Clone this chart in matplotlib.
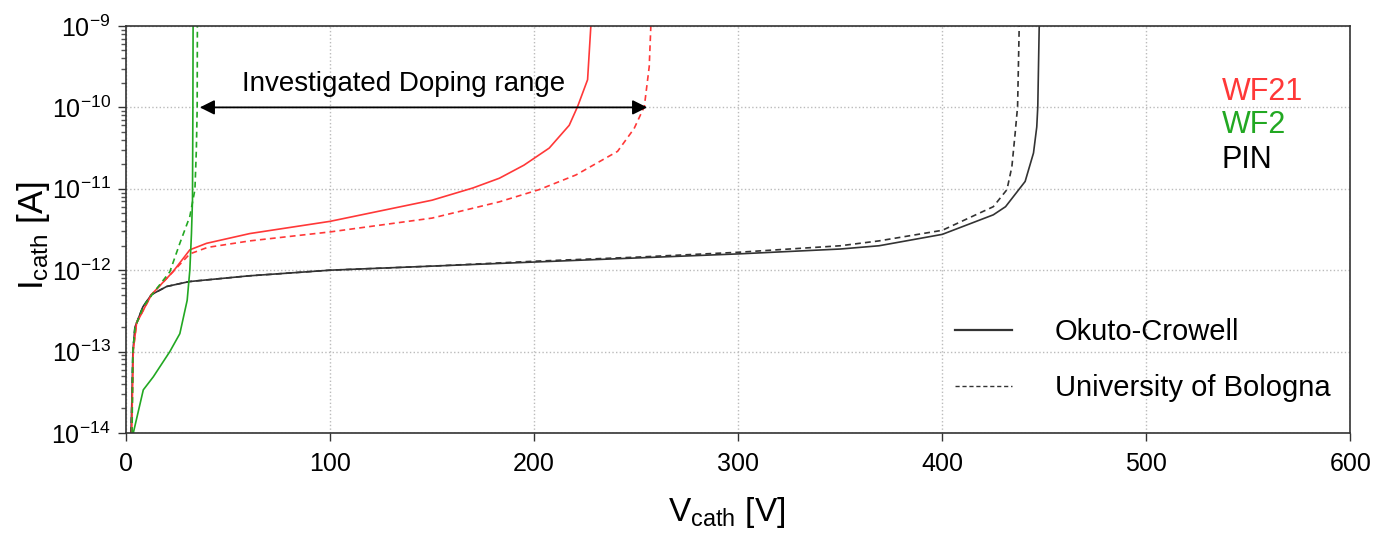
import numpy as np
import matplotlib
matplotlib.use("Agg")
import matplotlib.pyplot as plt
from matplotlib.lines import Line2D
from matplotlib.ticker import LogLocator, FuncFormatter, MultipleLocator

plt.rcParams['font.family'] = ['Liberation Sans', 'DejaVu Sans']
plt.rcParams['mathtext.fontset'] = 'custom'
plt.rcParams['mathtext.rm'] = 'Liberation Sans'
plt.rcParams['mathtext.it'] = 'Liberation Sans:italic'
plt.rcParams['mathtext.default'] = 'regular'

# PIN, Okuto-Crowell (solid)
pin_oc_v = [2.5, 3.0, 3.4, 4.4, 8.3, 12.5, 20, 31, 60, 100, 150, 200, 250, 300, 350,
            369, 400, 425, 431, 440.6, 444.7, 446.3, 446.8, 447.5]
pin_oc_logi = [-14.0, -13.5, -13.0, -12.70, -12.45, -12.30, -12.20, -12.14, -12.07, -12.0,
               -11.95, -11.90, -11.85, -11.80, -11.74, -11.70, -11.56, -11.32, -11.22,
               -10.91, -10.56, -10.24, -9.99, -9.0]
# PIN, University of Bologna (dashed)
pin_ub_v = [2.5, 3.0, 3.4, 4.4, 8.3, 12.5, 20, 31, 60, 100, 150, 200, 250, 300, 350,
            369, 400, 425, 431.7, 434.1, 435.7, 436.9, 437.7]
pin_ub_logi = [-14.0, -13.5, -13.0, -12.70, -12.45, -12.30, -12.20, -12.14, -12.07, -12.0,
               -11.95, -11.89, -11.84, -11.78, -11.70, -11.64, -11.51, -11.22, -11.01,
               -10.73, -10.32, -9.99, -9.0]

# WF21
wf21_oc_v = [2.8, 3.2, 3.6, 5.2, 12.5, 23, 31.3, 39.5, 60.7, 100, 150, 170, 183, 195,
             207.4, 217.2, 221.3, 226.2, 227.8]
wf21_oc_logi = [-14.0, -13.5, -12.98, -12.65, -12.30, -12.02, -11.75, -11.67, -11.55, -11.40,
                -11.14, -10.99, -10.87, -10.71, -10.50, -10.22, -9.99, -9.66, -9.0]
wf21_ub_v = [2.8, 3.2, 3.6, 5.2, 12.5, 23, 31.3, 40, 60.7, 100, 150, 183, 202.5, 220.5,
             240.9, 249, 254.0, 256.4, 257.2]
wf21_ub_logi = [-14.0, -13.5, -12.98, -12.65, -12.30, -12.02, -11.80, -11.72, -11.64, -11.53,
                -11.36, -11.16, -11.01, -10.83, -10.54, -10.26, -9.99, -9.5, -9.0]

# WF2
wf2_oc_v = [3.6, 8.5, 13.4, 21.5, 26.4, 30, 31.3, 32.1, 32.6, 32.8, 32.9]
wf2_oc_logi = [-14.0, -13.47, -13.31, -13.0, -12.78, -12.37, -12.0, -11.55, -11.14, -10.0, -9.0]
wf2_ub_v = [3.0, 3.4, 4.5, 8.5, 13.4, 21.5, 26.4, 31.3, 33.8, 34.5, 34.9, 35.0]
wf2_ub_logi = [-14.0, -13.0, -12.7, -12.45, -12.28, -12.02, -11.67, -11.34, -11.01, -10.52,
               -10.01, -9.0]

range_v = [36.2, 255.4]
range_i = 1e-10

RED = '#ff3838'
GREEN = '#22a822'
BLACK = '#333333'

fig = plt.figure(figsize=(13.78, 5.37), dpi=100)
ax = fig.add_axes([0.0914, 0.1937, 0.8886, 0.7579])

p = lambda a: 10.0 ** np.array(a)
ax.plot(pin_oc_v, p(pin_oc_logi), color=BLACK, lw=1.2)
ax.plot(pin_ub_v, p(pin_ub_logi), color=BLACK, lw=1.2, dashes=(3.5, 2.5))
ax.plot(wf21_oc_v, p(wf21_oc_logi), color=RED, lw=1.2)
ax.plot(wf21_ub_v, p(wf21_ub_logi), color=RED, lw=1.2, dashes=(3.5, 2.5))
ax.plot(wf2_oc_v, p(wf2_oc_logi), color=GREEN, lw=1.2)
ax.plot(wf2_ub_v, p(wf2_ub_logi), color=GREEN, lw=1.2, dashes=(3.5, 2.5))

ax.set_yscale('log')
ax.set_xlim(0, 600)
ax.set_ylim(1e-14, 1e-9)
ax.xaxis.set_major_locator(MultipleLocator(100))
ax.yaxis.set_major_locator(LogLocator(base=10, numticks=10))
ax.yaxis.set_minor_locator(LogLocator(base=10, subs=np.arange(2, 10), numticks=10))
ax.yaxis.set_major_formatter(FuncFormatter(lambda v, pos: r'$10^{%d}$' % round(np.log10(v))))
ax.yaxis.set_minor_formatter(FuncFormatter(lambda v, pos: ''))

ax.grid(True, which='major', color='#bbbbbb', ls=':', lw=1.0)
ax.tick_params(axis='both', which='major', direction='out', length=6, width=1.0,
               labelsize=18, pad=5, color='#333333')
ax.tick_params(axis='y', which='minor', direction='out', length=3.5, width=1.0, color='#555555')
ax.tick_params(axis='x', pad=8)
for s in ax.spines.values():
    s.set_color('#333333')
    s.set_linewidth(1.2)

ax.set_xlabel(r'V$_{cath}$ [V]', fontsize=24)
ax.set_ylabel(r'I$_{cath}$ [A]', fontsize=25)
ax.xaxis.set_label_coords(0.491, -0.152)
ax.yaxis.set_label_coords(-0.060, 0.486)

ax.annotate('', xy=(range_v[1], range_i), xytext=(range_v[0], range_i),
            arrowprops=dict(arrowstyle='<|-|>', color='black', lw=1.3, mutation_scale=22,
                            shrinkA=0, shrinkB=0))
ax.text(np.mean(range_v) - 10, 1.95e-10, 'Investigated Doping range', fontsize=20,
        ha='center', va='center')

ax.text(0.895, 0.838, 'WF21', color=RED, fontsize=22, transform=ax.transAxes, va='center')
ax.text(0.895, 0.757, 'WF2', color=GREEN, fontsize=22, transform=ax.transAxes, va='center')
ax.text(0.895, 0.670, 'PIN', color='black', fontsize=22, transform=ax.transAxes, va='center')

handles = [Line2D([], [], color=BLACK, lw=1.6),
           Line2D([], [], color=BLACK, lw=1.0, dashes=(3, 2))]
ax.legend(handles, ['Okuto-Crowell', 'University of Bologna'], loc='upper left',
          bbox_to_anchor=(0.677, 0.283), frameon=False, fontsize=21, handlelength=1.95,
          handletextpad=1.47, labelspacing=0.97, borderpad=0, borderaxespad=0)

fig.savefig('out.png', dpi=100)
